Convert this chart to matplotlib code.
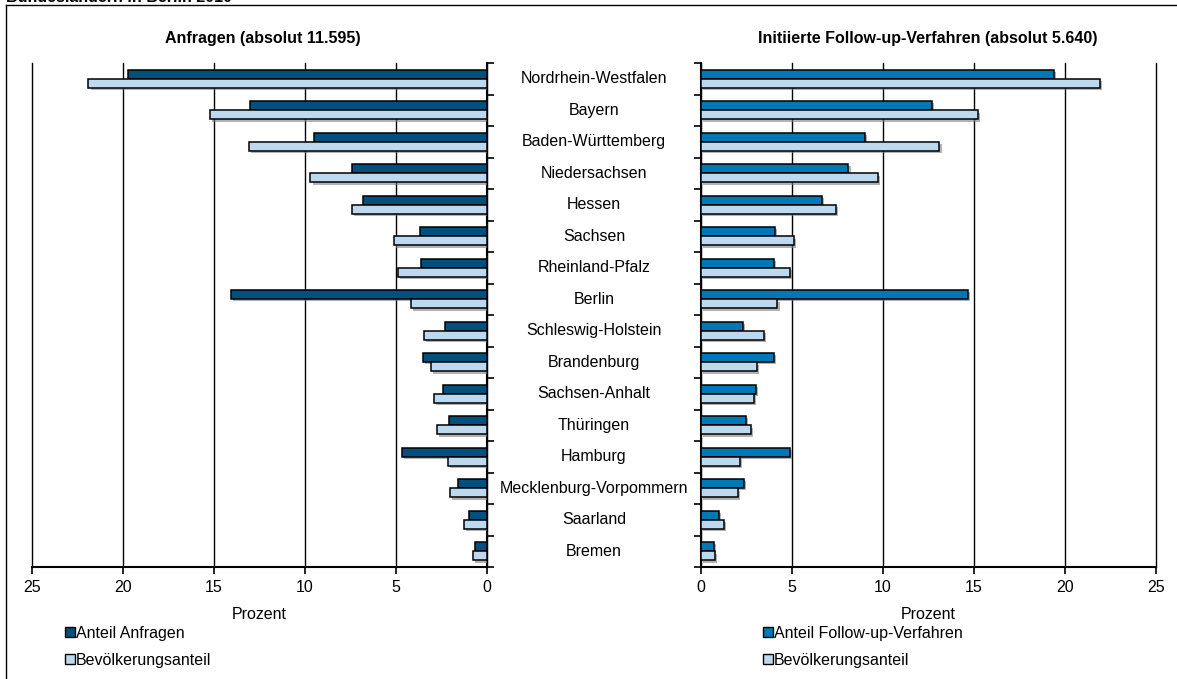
import matplotlib.pyplot as plt
import matplotlib.patheffects as pe
from matplotlib.lines import Line2D
from matplotlib.patches import Patch
import numpy as np

plt.rcParams['font.family'] = ['Liberation Sans', 'DejaVu Sans']

laender = ['Nordrhein-Westfalen', 'Bayern', 'Baden-Württemberg', 'Niedersachsen',
           'Hessen', 'Sachsen', 'Rheinland-Pfalz', 'Berlin', 'Schleswig-Holstein',
           'Brandenburg', 'Sachsen-Anhalt', 'Thüringen', 'Hamburg',
           'Mecklenburg-Vorpommern', 'Saarland', 'Bremen']

anteil_anfragen = [19.7, 13.0, 9.5, 7.4, 6.8, 3.7, 3.65, 14.05, 2.3, 3.5, 2.4, 2.1, 4.65, 1.6, 1.0, 0.66]
anteil_followup = [19.4, 12.7, 9.0, 8.1, 6.65, 4.07, 4.0, 14.65, 2.3, 4.03, 3.04, 2.48, 4.88, 2.37, 1.0, 0.72]
bevoelkerung = [21.9, 15.2, 13.1, 9.7, 7.4, 5.1, 4.9, 4.2, 3.45, 3.08, 2.9, 2.77, 2.15, 2.04, 1.25, 0.79]

title_left = 'Anfragen (absolut 11.595)'
title_right = 'Initiierte Follow-up-Verfahren (absolut 5.640)'

c_dark_left = '#00507f'
c_dark_right = '#0078b8'
c_light = '#bdd9ef'
fs = 11.5

fig = plt.figure(figsize=(11.77, 6.79), dpi=100)
ax_l = fig.add_axes([32 / 1177, 1 - 567 / 679, 455 / 1177, 504 / 679])
ax_r = fig.add_axes([701 / 1177, 1 - 567 / 679, 455 / 1177, 504 / 679])

y = np.arange(len(laender))
h = 0.285
shadow = [pe.SimplePatchShadow(offset=(1.5, -1.5), shadow_rgbFace='gray', alpha=0.6), pe.Normal()]

for ax, dark, col in [(ax_l, anteil_anfragen, c_dark_left), (ax_r, anteil_followup, c_dark_right)]:
    b1 = ax.barh(y - 0.145, dark, height=h, color=col, edgecolor='black', linewidth=1.1, zorder=3)
    b2 = ax.barh(y + 0.15, bevoelkerung, height=h, color=c_light, edgecolor='black', linewidth=1.1, zorder=3)
    for b in list(b1) + list(b2):
        b.set_path_effects(shadow)
    ax.set_ylim(len(laender) - 0.5, -0.5)
    ax.set_xticks([0, 5, 10, 15, 20, 25])
    ax.set_yticks([])
    ax.set_yticks(np.arange(-0.5, len(laender), 1), minor=True)
    ax.tick_params(axis='y', which='minor', length=5, width=1.2)
    ax.tick_params(axis='x', length=5, width=1.2, labelsize=fs, pad=4)
    ax.grid(axis='x', color='black', linewidth=1)
    for gl in ax.get_xgridlines():
        gl.set_clip_on(False)
    ax.set_axisbelow(True)
    ax.spines['top'].set_visible(False)
    ax.spines['bottom'].set_linewidth(1.5)
    ax.set_xlabel('Prozent', fontsize=fs, labelpad=9)

ax_l.set_xlim(25, 0)
ax_l.spines['left'].set_visible(False)
ax_l.spines['right'].set_linewidth(1.5)
ax_l.yaxis.set_ticks_position('right')
ax_r.set_xlim(0, 25)
ax_r.spines['right'].set_visible(False)
ax_r.spines['left'].set_linewidth(1.5)
ax_r.yaxis.set_ticks_position('left')

# Ländernamen in der Mitte (über beiden Achsen)
for i, name in enumerate(laender):
    yy = ax_l.transData.transform((0, i))[1]
    yf = fig.transFigure.inverted().transform((0, yy))[1]
    fig.text(594 / 1177, yf, name, ha='center', va='center', fontsize=fs)

fig.text(263 / 1177, 1 - 38 / 679, title_left, ha='center', va='center', fontsize=fs, fontweight='bold')
fig.text(928 / 1177, 1 - 38 / 679, title_right, ha='center', va='center', fontsize=fs, fontweight='bold')
fig.text(6 / 1177, 1 - 2.5 / 679, 'Bundesländern in Berlin 2010', ha='left', va='baseline',
         fontsize=fs, fontweight='bold')

# Rahmen
fig.add_artist(Line2D([6 / 1177, 6 / 1177], [0, 1 - 5 / 679], color='black', linewidth=1))
fig.add_artist(Line2D([6 / 1177, 1], [1 - 5 / 679, 1 - 5 / 679], color='black', linewidth=1))

leg_kw = dict(frameon=False, fontsize=fs, handlelength=0.6, handleheight=0.6,
              handletextpad=0.1, labelspacing=0.75, borderpad=0, borderaxespad=0)
fig.legend(handles=[Patch(facecolor=c_dark_left, edgecolor='black', label='Anteil Anfragen'),
                    Patch(facecolor=c_light, edgecolor='black', label='Bevölkerungsanteil')],
           loc='upper left', bbox_to_anchor=(65 / 1177, 1 - 626 / 679), **leg_kw)
fig.legend(handles=[Patch(facecolor=c_dark_right, edgecolor='black', label='Anteil Follow-up-Verfahren'),
                    Patch(facecolor=c_light, edgecolor='black', label='Bevölkerungsanteil')],
           loc='upper left', bbox_to_anchor=(763 / 1177, 1 - 626 / 679), **leg_kw)

fig.savefig('out.png', dpi=100)
